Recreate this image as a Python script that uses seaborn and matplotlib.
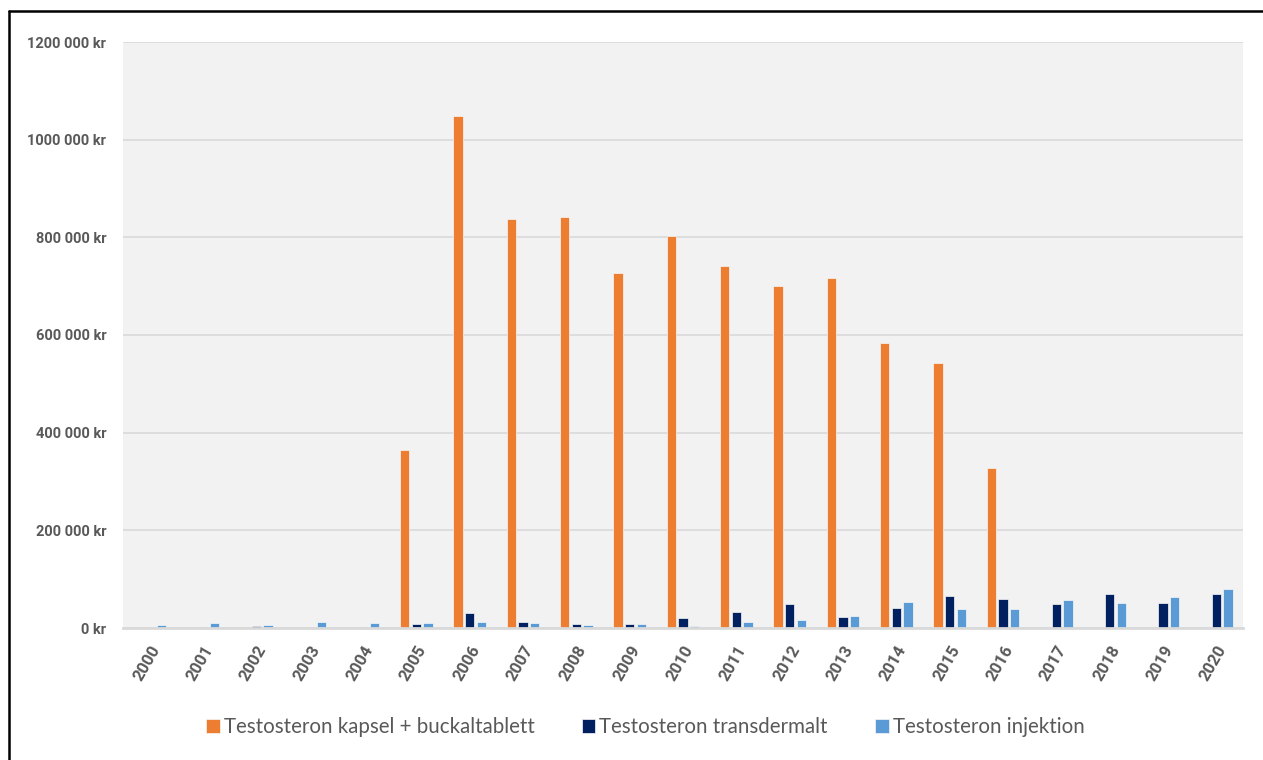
import matplotlib
matplotlib.use("Agg")
import matplotlib.pyplot as plt
from matplotlib.lines import Line2D
import seaborn as sns
import pandas as pd

years = [str(y) for y in range(2000, 2021)]

kapsel_buckal = [500, 1000, 3000, 0, 500, 365000, 1048000, 837000, 842000, 727000,
                 802000, 741000, 700000, 716000, 583000, 542000, 328000, 0, 0, 0, 0]
transdermalt = [0, 2500, 5000, 1000, 3000, 8000, 31000, 12000, 9000, 9000,
                20500, 33000, 49000, 22500, 41000, 65000, 59000, 50000, 69000, 51000, 70000]
injektion = [7000, 10000, 7000, 12000, 11000, 10000, 13000, 9500, 5500, 9000,
             4000, 12000, 16000, 24500, 53500, 39500, 38000, 56500, 52000, 63500, 79000]

series_names = ["Testosteron kapsel + buckaltablett",
                "Testosteron transdermalt",
                "Testosteron injektion"]
series_colors = ["#ED7D31", "#002060", "#5B9BD5"]

y_ticks = [0, 200000, 400000, 600000, 800000, 1000000, 1200000]
y_tick_labels = ["0 kr" if v == 0 else f"{v // 1000} 000 kr" for v in y_ticks]

df = pd.DataFrame({
    "year": years * 3,
    "value": kapsel_buckal + transdermalt + injektion,
    "series": [series_names[0]] * 21 + [series_names[1]] * 21 + [series_names[2]] * 21,
})

sns.set_theme(style="white")
plt.rcParams["font.family"] = ["Lato", "DejaVu Sans"]
tick_font = ["Roboto", "DejaVu Sans"]

fig = plt.figure(figsize=(12.63, 7.6), dpi=100, facecolor="white")
ax = fig.add_axes([123 / 1263, 1 - 628 / 760, 1120 / 1263, 586 / 760])
ax.set_facecolor("#F2F2F2")

sns.barplot(data=df, x="year", y="value", hue="series", hue_order=series_names,
            palette=series_colors, saturation=1, width=0.66, gap=0.2, ax=ax,
            edgecolor="#F7F7F7", linewidth=0.5, legend=True)

ax.set_xlim(-0.5, 20.5)
ax.set_ylim(0, 1200000)
ax.set_yticks(y_ticks, y_tick_labels, family=tick_font, fontweight="bold",
              fontsize=10.5, color="#595959")
ax.set_xticks(range(len(years)), years, family=tick_font, fontweight="bold",
              fontsize=12, color="#595959",
              rotation=60, ha="right", rotation_mode="anchor")
ax.grid(axis="y", color="#D9D9D9", linewidth=1.2)
ax.set_axisbelow(True)
for side in ["top", "right", "left"]:
    ax.spines[side].set_visible(False)
ax.spines["bottom"].set_color("#D9D9D9")
ax.spines["bottom"].set_linewidth(2)
ax.tick_params(axis="both", length=0)
ax.tick_params(axis="y", pad=12)
ax.tick_params(axis="x", pad=11)
ax.set_xlabel("")
ax.set_ylabel("")

handles, labels = ax.get_legend_handles_labels()
ax.get_legend().remove()
fig.legend(handles, labels, loc="center", bbox_to_anchor=(0.511, 1 - 727 / 760),
           ncol=3, frameon=False, fontsize=14.8, labelcolor="#595959",
           handlelength=0.65, handleheight=0.65, handletextpad=0.2,
           columnspacing=2.3)

# outer frame (top and left edges)
fig.add_artist(Line2D([9 / 1263, 1.0], [1 - 10.5 / 760, 1 - 10.5 / 760],
                      transform=fig.transFigure, color="black", linewidth=1.8))
fig.add_artist(Line2D([9 / 1263, 9 / 1263], [0.0, 1 - 10.5 / 760],
                      transform=fig.transFigure, color="black", linewidth=1.8))

fig.savefig("out.png", dpi=100, facecolor="white")
